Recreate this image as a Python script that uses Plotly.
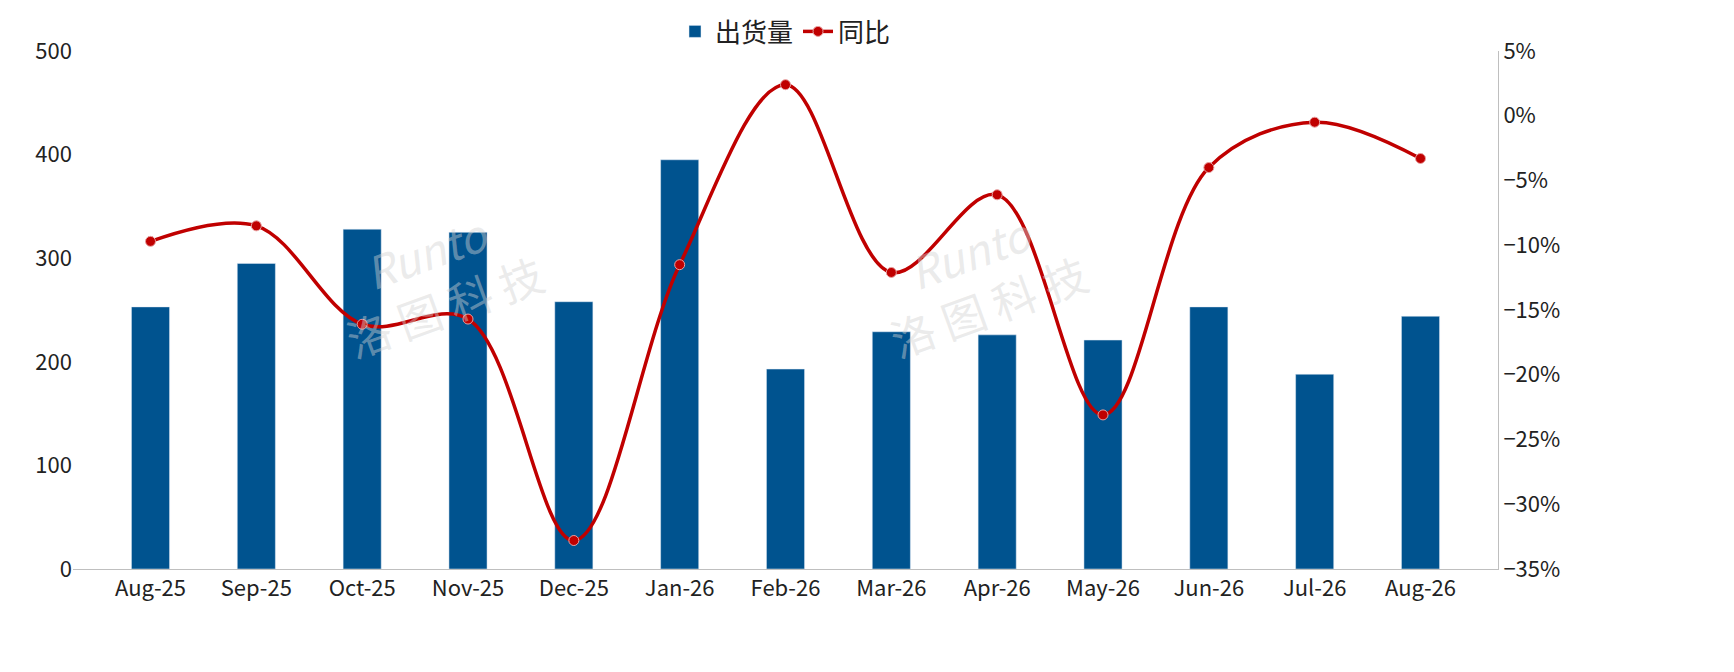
import plotly.graph_objects as go

months = ['Aug-25', 'Sep-25', 'Oct-25', 'Nov-25', 'Dec-25', 'Jan-26', 'Feb-26',
          'Mar-26', 'Apr-26', 'May-26', 'Jun-26', 'Jul-26', 'Aug-26']
shipments = [253, 295, 328, 325, 258, 395, 193, 229, 226, 221, 253, 188, 244]
yoy = [-9.7, -8.5, -16.1, -15.7, -32.8, -11.5, 2.4, -12.1, -6.1, -23.1, -4.0, -0.5, -3.3]

font = "Noto Sans CJK SC"
fig = go.Figure()
fig.add_trace(go.Bar(x=months, y=shipments, name='出货量', marker_color='#00538F',
                     width=0.36))
fig.add_trace(go.Scatter(x=months, y=yoy, name='同比', yaxis='y2', mode='lines+markers',
                         line=dict(color='#C00000', width=3.5, shape='spline', smoothing=1.0),
                         marker=dict(size=10, color='#C00000', line=dict(color='#E8A0A0', width=1))))

# faint watermarks
for xp in [0.17, 0.72]:
    fig.add_annotation(text='<i>Runto</i><br>洛 图 科 技', xref='paper', yref='paper', x=xp, y=0.56,
                       showarrow=False, textangle=-20,
                       font=dict(size=44, color='rgba(210,210,210,0.45)', family=font))

fig.update_layout(
    width=1734, height=672, plot_bgcolor='white', paper_bgcolor='white',
    margin=dict(l=65, r=244, t=43, b=111, autoexpand=False),
    font=dict(family=font, size=22, color='#222'),
    legend=dict(orientation='h', x=0.5, xanchor='center', y=1, yref='container', yanchor='top',
                font=dict(size=26)),
    xaxis=dict(showline=True, linecolor='#BFBFBF', linewidth=1, ticks='', tickfont=dict(size=22)),
    yaxis=dict(range=[0, 500], dtick=100, showgrid=False, zeroline=False, tickfont=dict(size=22)),
    yaxis2=dict(range=[-35, 5], dtick=5, overlaying='y', side='right', showgrid=False,
                ticksuffix='%', zeroline=False, showline=True, linecolor='#BFBFBF',
                tickfont=dict(size=22)),
)
fig.write_html("out.html")
